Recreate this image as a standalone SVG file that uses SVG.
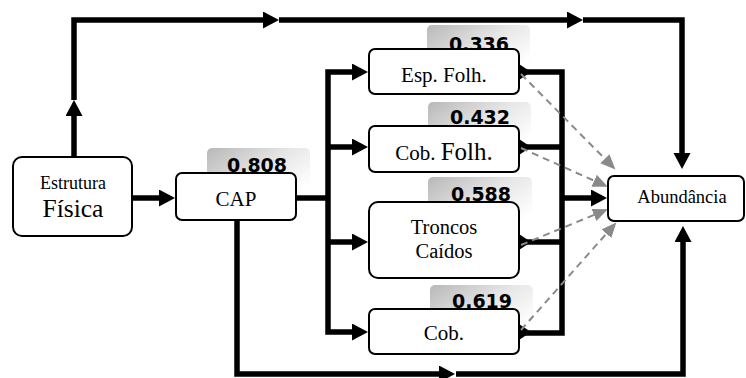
<svg xmlns="http://www.w3.org/2000/svg" width="746" height="378" viewBox="0 0 746 378">
<defs>
<linearGradient id="lg" x1="0" y1="0" x2="1" y2="0.7">
<stop offset="0" stop-color="#b8b8b8"/>
<stop offset="0.55" stop-color="#e6e6e6"/>
<stop offset="1" stop-color="#ffffff"/>
</linearGradient>
<marker id="a" markerUnits="userSpaceOnUse" markerWidth="18" markerHeight="18" refX="1" refY="8.5" orient="auto-start-reverse">
<path d="M0,0 L16,8.5 L0,17 Z" fill="#000"/>
</marker>
<marker id="g" markerUnits="userSpaceOnUse" markerWidth="16" markerHeight="14" refX="13" refY="6.5" orient="auto">
<path d="M0,0 L15,6.5 L0,13 Z" fill="#8a8a8a"/>
</marker>
</defs>
<style>
.node rect{fill:#fff;stroke:#000;stroke-width:2}
.t{fill:#000;text-anchor:middle}
.lab rect{fill:url(#lg)}
.lab text{font-weight:bold;font-size:19px;fill:#000;text-anchor:middle}
.c path{fill:none;stroke:#000;stroke-width:5.5}
.c .ar{marker-end:url(#a)}
.d path{fill:none;stroke:#8a8a8a;stroke-width:2;stroke-dasharray:7,5;marker-end:url(#g)}
.tail{fill:#000}
</style>
<rect width="746" height="378" fill="#fff"/>
<g class="lab" id="labels" font-family="DejaVu Sans, Verdana, sans-serif">
<g id="lab-cap"><rect x="207" y="148" width="103" height="52" rx="5"/><text x="257" y="172">0.808</text></g>
<g id="lab-esp"><rect x="427" y="25" width="103" height="50" rx="5"/><text x="479" y="51">0.336</text></g>
<g id="lab-cobf"><rect x="428" y="102" width="103" height="50" rx="5"/><text x="480" y="124">0.432</text></g>
<g id="lab-tron"><rect x="428" y="177" width="104" height="52" rx="5"/><text x="481" y="201">0.588</text></g>
<g id="lab-cob"><rect x="430" y="285" width="103" height="50" rx="5"/><text x="482" y="308">0.619</text></g>
</g>
<g class="c" id="connectors">
<path class="ar" d="M74,157 V115"/>
<path class="ar" d="M74,100 V20 H264"/>
<path class="ar" d="M279,20 H568"/>
<path class="ar" d="M583,20 H682 V154"/>
<path class="ar" d="M132,198 H160"/>
<path d="M296,198 H328"/>
<path d="M353,72 H328 V332 H353" marker-start="url(#a)" marker-end="url(#a)"/>
<path class="ar" d="M328,147 H353"/>
<path class="ar" d="M328,242 H353"/>
<path d="M519,72 H562 V333 H519"/>
<path d="M519,147 H562"/>
<path d="M519,242 H562"/>
<path class="ar" d="M562,198 H592"/>
<path class="ar" d="M237,220 V374 H440"/>
<path class="ar" d="M456,374 H683 V241"/>
<polygon class="tail" points="519,64 531,72 519,80"/>
<polygon class="tail" points="519,139 531,147 519,155"/>
<polygon class="tail" points="519,234 531,242 519,250"/>
<polygon class="tail" points="519,324 531,332 519,340"/>
</g>
<g class="d" id="dashed">
<path d="M521,74 L614,168"/>
<path d="M521,148 L606,186"/>
<path d="M521,245 L606,210"/>
<path d="M521,330 L615,224"/>
</g>
<g font-family="Liberation Serif, Times New Roman, serif">
<g class="node" id="estrutura">
<rect x="13" y="157" width="119" height="79" rx="9"/>
<text class="t" x="73" y="189" font-size="18">Estrutura</text>
<text class="t" x="73" y="217" font-size="25.5">Física</text>
</g>
<g class="node" id="cap">
<rect x="176" y="173" width="120" height="47" rx="6"/>
<text class="t" x="236" y="206" font-size="21">CAP</text>
</g>
<g class="node" id="espfolh">
<rect x="369" y="49" width="150" height="45" rx="6"/>
<text class="t" x="444" y="82" font-size="21">Esp. Folh.</text>
</g>
<g class="node" id="cobfolh">
<rect x="369" y="126" width="150" height="46" rx="6"/>
<text class="t" x="444" y="160"><tspan font-size="21">Cob. </tspan><tspan font-size="25">Folh.</tspan></text>
</g>
<g class="node" id="troncos">
<rect x="369" y="202" width="150" height="76" rx="9"/>
<text class="t" x="444" y="234" font-size="20.5">Troncos</text>
<text class="t" x="444" y="258" font-size="20.5">Caídos</text>
</g>
<g class="node" id="cob">
<rect x="369" y="309" width="150" height="45" rx="6"/>
<text class="t" x="444" y="340" font-size="21">Cob.</text>
</g>
<g class="node" id="abundancia">
<rect x="608" y="176" width="136" height="45" rx="6"/>
<text class="t" x="682" y="203" font-size="18.5">Abundância</text>
</g>
</g>
</svg>
